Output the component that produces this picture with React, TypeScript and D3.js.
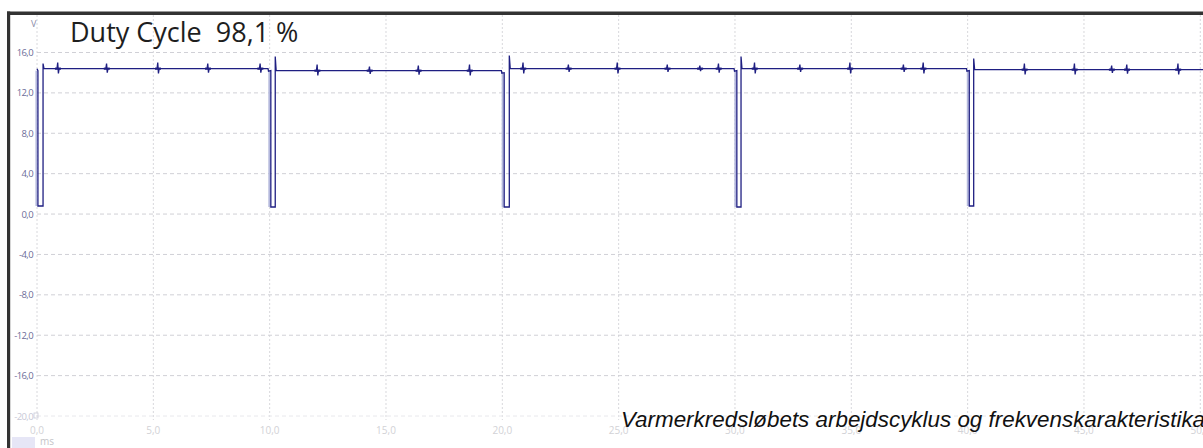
import React from "react";
import * as d3 from "d3";

// ---- data ----
const Y_TICKS = [16, 12, 8, 4, 0, -4, -8, -12, -16, -20];
const Y_TICK_LABELS = ["16,0", "12,0", "8,0", "4,0", "0,0", "-4,0", "-8,0", "-12,0", "-16,0", "-20,0"];
const X_TICKS = [0, 5, 10, 15, 20, 25, 30, 35, 40, 45, 50];
const X_TICK_LABELS = ["0,0", "5,0", "10,0", "15,0", "20,0", "25,0", "30,0", "35,0", "40,0", "45,0", "50,0"];

// pulses (ms / V)
const PULSE_START_MS = [0.04, 10.05, 20.08, 30.08, 40.07];
const PULSE_END_MS = [0.26, 10.24, 20.3, 30.26, 40.26];
const PULSE_LOW_V = [0.8, 0.7, 0.7, 0.7, 0.8];
const RISE_SPIKE_V = [14.9, 15.6, 15.7, 15.6, 15.4];
// high level of each segment: before pulse 1, then after each pulse
const HIGH_LEVEL_V = [14.4, 14.4, 14.2, 14.4, 14.4, 14.3];
const END_MS = 50.15;

// small blips riding on the high level
const BLIP_MS = [0.9, 3.0, 5.2, 7.35, 9.6, 12.05, 14.3, 16.4, 18.6, 20.9, 22.85, 24.95, 27.1, 28.5, 29.3, 30.85, 32.8, 34.95, 37.25, 38.1, 42.45, 44.6, 46.2, 46.85, 49.05];
const BLIP_AMP_V = [0.6, 0.5, 0.6, 0.5, 0.5, 0.6, 0.4, 0.5, 0.6, 0.6, 0.4, 0.6, 0.4, 0.3, 0.5, 0.6, 0.4, 0.6, 0.4, 0.6, 0.6, 0.6, 0.4, 0.5, 0.6];

const TITLE = "Duty Cycle  98,1 %";
const UNIT_Y = "V";
const UNIT_X = "ms";
const CAPTION = "Varmerkredsløbets arbejdscyklus og frekvenskarakteristika";

const W = 1203;
const H = 448;

export default function App() {
  const x = d3.scaleLinear().domain([0, 50]).range([37, 1200.3]);
  const y = d3.scaleLinear().domain([16, -20]).range([52.5, 416]);

  // build waveform from segments
  const pts: [number, number][] = [];
  const nSeg = PULSE_START_MS.length + 1;
  for (let s = 0; s < nSeg; s++) {
    const L = HIGH_LEVEL_V[s];
    const t0 = s === 0 ? 0 : PULSE_END_MS[s - 1];
    const t1 = s < PULSE_START_MS.length ? PULSE_START_MS[s] : END_MS;
    if (s > 0) {
      pts.push([t0, PULSE_LOW_V[s - 1]]);
      pts.push([t0, RISE_SPIKE_V[s - 1]]);
      pts.push([t0 + 0.04, L]);
    } else {
      pts.push([t0, L]);
    }
    BLIP_MS.forEach((b, i) => {
      if (b > t0 + 0.1 && b < t1 - 0.1) {
        const a = BLIP_AMP_V[i];
        pts.push([b - 0.04, L]);
        pts.push([b - 0.01, L + a]);
        pts.push([b + 0.02, L - a * 0.8]);
        pts.push([b + 0.05, L]);
      }
    });
    if (s < PULSE_START_MS.length) {
      if (s > 0) {
        pts.push([t1 - 0.12, L]);
        pts.push([t1 - 0.1, L - 0.25]);
      }
      pts.push([t1, L - 0.2]);
      pts.push([t1, PULSE_LOW_V[s]]);
    } else {
      pts.push([t1, L]);
    }
  }
  const line = d3
    .line<[number, number]>()
    .x((d) => x(d[0]))
    .y((d) => y(d[1]));

  const gridColor = "#d0d0d6";

  return (
    <svg
      width={W}
      height={H}
      style={{ position: "fixed", left: 0, top: 0, background: "#fff" }}
      xmlns="http://www.w3.org/2000/svg"
    >
      <rect x={0} y={0} width={W} height={H} fill="#fff" />
      {/* vertical grid */}
      {X_TICKS.map((t) => (
        <line
          key={"vx" + t}
          x1={x(t)}
          x2={x(t)}
          y1={15}
          y2={y(-20) + 4}
          stroke="#d8d8dc"
          strokeWidth={1}
          strokeDasharray="2,2"
        />
      ))}
      {/* horizontal grid */}
      {Y_TICKS.map((t) => (
        <line
          key={"hy" + t}
          x1={x(0)}
          x2={W}
          y1={y(t)}
          y2={y(t)}
          stroke={t === -20 ? "#e8e8ec" : gridColor}
          strokeWidth={1}
          strokeDasharray="4,3"
        />
      ))}
      {/* y tick labels */}
      {Y_TICKS.map((t, i) => (
        <text
          key={"yl" + t}
          x={33}
          y={y(t) + 3.5}
          textAnchor="end"
          fontFamily="'Open Sans', sans-serif"
          fontSize={9.5}
          letterSpacing={-0.6}
          fill={t === -20 ? "#c8c8d6" : "#6c6c98"}
        >
          {Y_TICK_LABELS[i]}
        </text>
      ))}
      <rect x={34} y={y(-20) - 3} width={4} height={5} fill="none" stroke="#c8c8d6" strokeWidth={0.8} />
      {/* x tick labels */}
      {X_TICKS.map((t, i) => (
        <text
          key={"xl" + t}
          x={x(t)}
          y={434}
          textAnchor="middle"
          fontFamily="'Open Sans', sans-serif"
          fontSize={10}
          fill="#d2d2d6"
        >
          {X_TICK_LABELS[i]}
        </text>
      ))}
      <rect x={12} y={437} width={23} height={11} fill="#e6e6f6" />
      <text x={40} y={445} fontFamily="'Open Sans', sans-serif" fontSize={10} fill="#c4c4c8">
        {UNIT_X}
      </text>
      <text x={31} y={27} fontFamily="'Open Sans', sans-serif" fontSize={9} fill="#8a8aa8">
        {UNIT_Y}
      </text>

      {/* light shadow on falling edges */}
      {PULSE_START_MS.map((t, i) => (
        <line
          key={"sh" + i}
          x1={x(t) - 1.6}
          x2={x(t) - 1.6}
          y1={y(HIGH_LEVEL_V[i]) + 2}
          y2={y(PULSE_LOW_V[i])}
          stroke="#b4b8dc"
          strokeWidth={1.8}
        />
      ))}
      {/* waveform */}
      <path d={line(pts) || ""} fill="none" stroke="#1f1f82" strokeWidth={1.3} strokeLinejoin="miter" />
      {/* blip bold marks */}
      {BLIP_MS.map((b, i) => {
        let seg = 0;
        for (let k = 0; k < PULSE_END_MS.length; k++) if (b > PULSE_END_MS[k]) seg = k + 1;
        const L = HIGH_LEVEL_V[seg];
        return (
          <line
            key={"bm" + i}
            x1={x(b) - 3}
            x2={x(b) + 3}
            y1={y(L)}
            y2={y(L)}
            stroke="#1f1f82"
            strokeWidth={2.2}
          />
        );
      })}

      {/* title */}
      <text
        x={70}
        y={42}
        fontFamily="'Open Sans', sans-serif"
        fontSize={27}
        fill="#1e1e1e"
        style={{ whiteSpace: "pre" }}
      >
        {TITLE}
      </text>

      {/* frame */}
      <rect x={7} y={11.5} width={W - 7} height={3.5} fill="#333" />
      <rect x={7} y={11.5} width={3.2} height={H - 11.5} fill="#333" />

      {/* caption */}
      <text
        x={621}
        y={427}
        fontFamily="'Liberation Sans', Arial, sans-serif"
        fontStyle="italic"
        fontSize={22.4}
        fill="#111"
      >
        {CAPTION}
      </text>
    </svg>
  );
}
